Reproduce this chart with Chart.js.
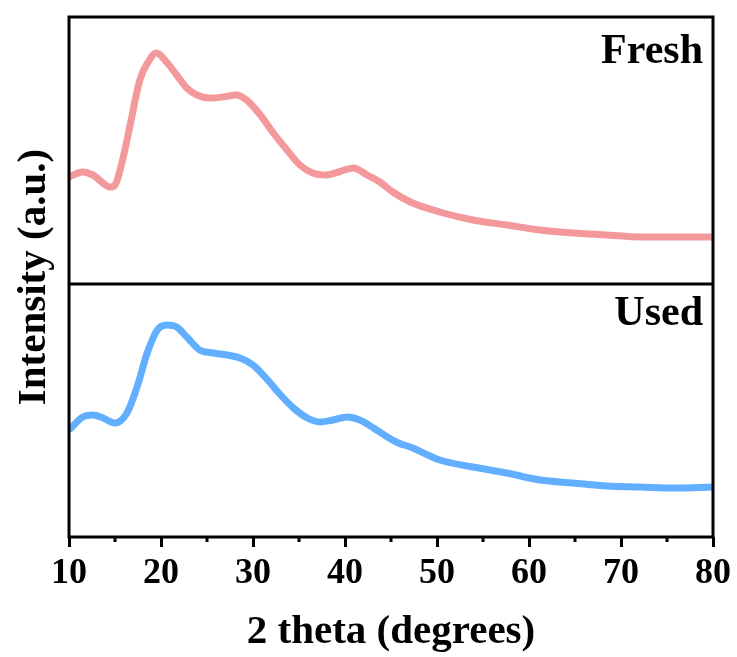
<!DOCTYPE html>
<html>
<head>
<meta charset="utf-8">
<title>XRD Fresh / Used</title>
<script src="https://cdn.jsdelivr.net/npm/chart.js@4/dist/chart.umd.min.js"></script>
<style>
    html, body { margin: 0; padding: 0; background: #ffffff; }
    #wrap { width: 737px; height: 657px; }
</style>
</head>
<body>
<div id="wrap"><canvas id="xrd" width="737" height="657"></canvas></div>
<script>
// values (intensity in a.u.)
const freshAngles = [10.0, 11.5, 12.6, 14.5, 15.0, 15.9, 16.6, 17.7, 18.6, 19.5, 20.6, 21.7, 22.8, 23.9, 25.3, 26.7, 28.2, 29.3, 30.8, 32.2, 33.7, 35.1, 36.5, 38.0, 39.3, 40.9, 42.4, 43.8, 45.2, 47.1, 50.3, 53.9, 57.6, 61.2, 64.8, 68.5, 72.1, 75.7, 80.0];
const freshIntensity = [107, 112, 109, 97, 99, 127, 157, 204, 222, 231, 222, 209, 196, 189, 186, 187, 189, 184, 169, 151, 134, 119, 111, 109, 112, 116, 109, 102, 92, 82, 72, 64, 59, 54, 51, 49, 47, 47, 47];

const usedAngles = [10.0, 11.5, 12.6, 13.7, 15.0, 16.3, 17.4, 18.5, 19.6, 20.6, 21.7, 22.8, 24.2, 25.7, 27.2, 28.6, 30.0, 31.6, 33.0, 34.4, 35.9, 37.3, 38.7, 40.2, 41.6, 43.1, 44.6, 45.8, 47.1, 50.3, 53.9, 57.6, 61.2, 64.8, 68.5, 72.1, 75.7, 80.0];
const usedIntensity = [107, 120, 122, 119, 114, 124, 150, 184, 207, 212, 210, 200, 187, 184, 182, 179, 172, 157, 142, 129, 119, 115, 117, 120, 117, 109, 100, 94, 90, 77, 70, 64, 57, 54, 51, 50, 49, 50];

const majorTicks = [10, 20, 30, 40, 50, 60, 70, 80];
const panelLabels = ['Fresh', 'Used'];

const serif = "'Times New Roman', 'Liberation Serif', serif";

const toPoints = (xs, ys) => xs.map((x, i) => ({ x: x, y: ys[i] }));

// frame around both panels, minor ticks, axis title and panel names
const framePlugin = {
    id: 'frame',
    afterDraw(chart) {
        const ctx = chart.ctx;
        const area = chart.chartArea;
        const xScale = chart.scales.x;
        const top = chart.scales.yFresh;
        const bottom = chart.scales.yUsed;

        ctx.save();
        ctx.strokeStyle = '#000';
        ctx.lineWidth = 3;
        ctx.strokeRect(area.left, area.top, area.right - area.left, area.bottom - area.top);
        ctx.beginPath();
        ctx.moveTo(area.left, top.bottom);
        ctx.lineTo(area.right, top.bottom);
        ctx.stroke();

        // minor ticks at the 5s
        for (let v = 15; v < 80; v += 10) {
            const px = xScale.getPixelForValue(v);
            ctx.beginPath();
            ctx.moveTo(px, area.bottom);
            ctx.lineTo(px, area.bottom + 5);
            ctx.stroke();
        }

        ctx.fillStyle = '#000';
        ctx.font = 'bold 42px ' + serif;
        ctx.textAlign = 'right';
        ctx.textBaseline = 'alphabetic';
        ctx.fillText(panelLabels[0], area.right - 10, top.top + 46);
        ctx.fillText(panelLabels[1], area.right - 10, bottom.top + 41);

        ctx.translate(34, (area.top + area.bottom) / 2);
        ctx.rotate(-Math.PI / 2);
        ctx.textAlign = 'center';
        ctx.textBaseline = 'middle';
        ctx.font = 'bold 41px ' + serif;
        ctx.fillText('Intensity (a.u.)', 0, 0);
        ctx.restore();
    }
};

const hiddenY = (max, weight, stackWeight) => ({
    type: 'linear',
    position: 'left',
    stack: 'panels',
    stackWeight: stackWeight,
    weight: weight,
    min: 0,
    max: max,
    ticks: { display: false },
    grid: { display: false, drawTicks: false },
    border: { display: false }
});

new Chart(document.getElementById('xrd'), {
    type: 'line',
    data: {
        datasets: [
            {
                label: 'Fresh',
                data: toPoints(freshAngles, freshIntensity),
                yAxisID: 'yFresh',
                borderColor: '#F4999B',
                borderWidth: 7,
                pointRadius: 0,
                cubicInterpolationMode: 'monotone'
            },
            {
                label: 'Used',
                data: toPoints(usedAngles, usedIntensity),
                yAxisID: 'yUsed',
                borderColor: '#63AFFF',
                borderWidth: 7,
                pointRadius: 0,
                cubicInterpolationMode: 'monotone'
            }
        ]
    },
    options: {
        responsive: false,
        animation: false,
        layout: { padding: { left: 69, right: 24, top: 17, bottom: 4 } },
        plugins: {
            legend: { display: false },
            tooltip: { enabled: false }
        },
        scales: {
            x: {
                type: 'linear',
                position: 'bottom',
                min: 10,
                max: 80,
                // let the layout padding alone decide the plot edges
                afterFit: scale => {
                    scale.paddingLeft = 0;
                    scale.paddingRight = 0;
                },
                border: { display: false },
                grid: {
                    drawOnChartArea: false,
                    drawTicks: true,
                    tickLength: 10,
                    tickWidth: 3,
                    tickColor: ctx => (majorTicks.includes(ctx.tick.value) ? '#000' : 'rgba(0,0,0,0)')
                },
                ticks: {
                    stepSize: 5,
                    padding: 9,
                    color: '#000',
                    maxRotation: 0,
                    autoSkip: false,
                    font: { family: serif, size: 36, weight: 'bold', lineHeight: 1 },
                    callback: v => (majorTicks.includes(v) ? String(v) : '')
                },
                title: {
                    display: true,
                    text: '2 theta (degrees)',
                    color: '#000',
                    padding: { top: 11, bottom: 0 },
                    font: { family: serif, size: 41, weight: 'bold', lineHeight: 1 }
                }
            },
            yFresh: hiddenY(267, 2, 267),
            yUsed: hiddenY(253, 1, 253)
        }
    },
    plugins: [framePlugin]
});
</script>
</body>
</html>
